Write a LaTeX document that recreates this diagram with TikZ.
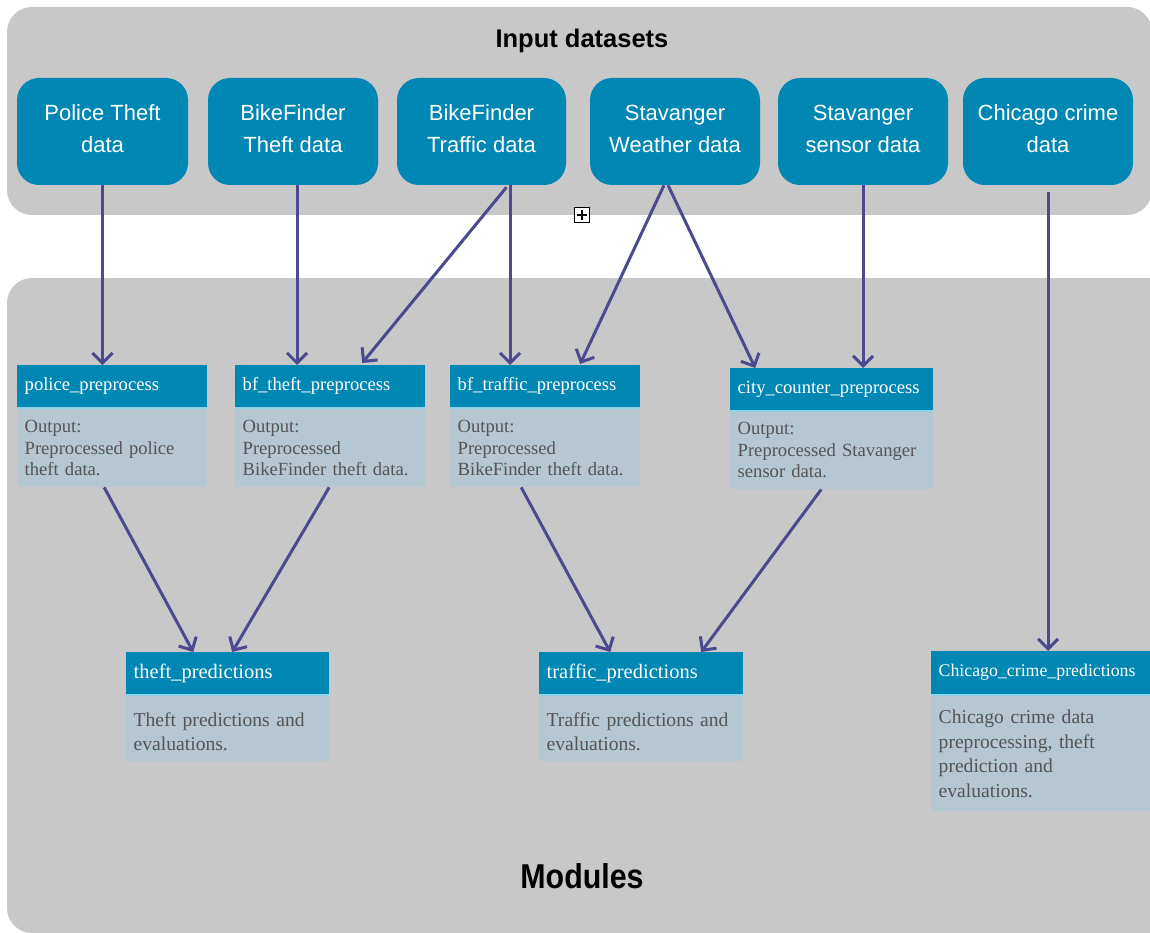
\documentclass[tikz,border=0pt]{standalone}
\usepackage{fontspec}
\setmainfont{Liberation Serif}
\newfontfamily\hsans{Liberation Sans}
\newfontfamily\msans{Liberation Sans}[FakeStretch=0.88]
\usetikzlibrary{arrows.meta,calc}
\definecolor{panel}{HTML}{C8C8C8}
\definecolor{dblue}{HTML}{0087B3}
\definecolor{bodyc}{HTML}{B5C7D1}
\definecolor{sepc}{HTML}{8DD3EE}
\definecolor{arrc}{HTML}{4B4A8E}
\definecolor{txtg}{HTML}{555555}
\tikzset{
  panelbox/.style={fill=panel, rounded corners=25pt},
  inbox/.style={fill=dblue, rounded corners=22pt, minimum height=107pt, text=white,
    align=center, inner sep=0pt, text depth=5pt, font=\hsans\fontsize{22}{32}\selectfont},
  hdr/.style={fill=dblue, anchor=north west, text=white, align=left, inner xsep=7.5pt,
    inner ysep=0pt, minimum height=42pt},
  bodybox/.style={fill=bodyc, anchor=north west, text=txtg, align=left, inner xsep=7.5pt,
    inner ysep=0pt},
  sepline/.style={draw=sepc, line width=2pt},
  arr/.style={draw=arrc, line width=3pt, -{Straight Barb[length=10pt,width=20pt,line width=3pt]}},
  ftA/.style={font=\fontsize{18.6}{21.5}\selectfont},
  ftB/.style={font=\fontsize{20.5}{25}\selectfont},
  ftC/.style={font=\fontsize{19.6}{24.5}\selectfont},
}
\begin{document}
\begin{tikzpicture}[x=1pt,y=-1pt]
\useasboundingbox (0,0) rectangle (1150,933);
\clip (0,0) rectangle (1150,933);
\fill[white] (0,0) rectangle (1150,933);
% panels
\path[panelbox] (7,7) rectangle (1152,215);
\path[panelbox] (7,278) rectangle (1175,933);
\node[font=\hsans\bfseries\fontsize{25.5}{30}\selectfont] (tin) at (582,41) {Input datasets};
\node[font=\msans\bfseries\fontsize{34.5}{40}\selectfont] (tmod) at (582,876) {Modules};
% small icon
\node[draw=black, fill=white, line width=1.3pt, minimum size=15pt, inner sep=0pt] (icon) at (582,215) {};
\draw[line width=1.3pt] ([xshift=-5pt]icon.center) -- ([xshift=5pt]icon.center);
\draw[line width=1.3pt] ([yshift=-5pt]icon.center) -- ([yshift=5pt]icon.center);
% input boxes
\node[inbox, minimum width=171pt] (pt)  at (102.5,131.5) {Police Theft\\data};
\node[inbox, minimum width=170pt] (bft) at (293,131.5) {BikeFinder\\Theft data};
\node[inbox, minimum width=169pt] (btd) at (481.5,131.5) {BikeFinder\\Traffic data};
\node[inbox, minimum width=170pt] (swd) at (675,131.5) {Stavanger\\Weather data};
\node[inbox, minimum width=170pt] (ssd) at (863,131.5) {Stavanger\\sensor data};
\node[inbox, minimum width=170pt] (ccd) at (1048,131.5) {Chicago crime\\data};
% module boxes, row 1
\node[hdr, ftA, text width=175pt] (pp) at (17,365) {police\_preprocess};
\node[bodybox, ftA, text width=175pt, minimum height=78pt] (ppb) at (17,409) {Output:\\Preprocessed police\\theft data.};
\draw[sepline] ([yshift=-1pt]pp.south west) -- ([yshift=-1pt]pp.south east);

\node[hdr, ftA, text width=175pt] (bt) at (235,365) {bf\_theft\_preprocess};
\node[bodybox, ftA, text width=175pt, minimum height=78pt] (btb) at (235,409) {Output:\\Preprocessed\\BikeFinder theft data.};
\draw[sepline] ([yshift=-1pt]bt.south west) -- ([yshift=-1pt]bt.south east);

\node[hdr, ftA, text width=175pt] (btr) at (450,365) {bf\_traffic\_preprocess};
\node[bodybox, ftA, text width=175pt, minimum height=78pt] (btrb) at (450,409) {Output:\\Preprocessed\\BikeFinder theft data.};
\draw[sepline] ([yshift=-1pt]btr.south west) -- ([yshift=-1pt]btr.south east);

\node[hdr, ftA, text width=188pt] (cc) at (730,368) {city\_counter\_preprocess};
\node[bodybox, ftA, text width=188pt, minimum height=78pt] (ccb) at (730,411) {Output:\\Preprocessed Stavanger\\sensor data.};
\draw[sepline] ([yshift=-1pt]cc.south west) -- ([yshift=-1pt]cc.south east);

% module boxes, row 2
\node[hdr, ftB, text width=188pt] (tp) at (126,652) {theft\_predictions};
\node[bodybox, ftC, text width=188pt, minimum height=65pt, text height=20pt] (tpb) at (126,696) {Theft predictions and\\evaluations.};
\draw[sepline] ([yshift=-1pt]tp.south west) -- ([yshift=-1pt]tp.south east);

\node[hdr, ftB, text width=189pt] (trp) at (539,652) {traffic\_predictions};
\node[bodybox, ftC, text width=189pt, minimum height=65pt, text height=20pt] (trpb) at (539,696) {Traffic predictions and\\evaluations.};
\draw[sepline] ([yshift=-1pt]trp.south west) -- ([yshift=-1pt]trp.south east);

\node[hdr, font=\fontsize{17.8}{21}\selectfont, text width=215pt, minimum height=43pt] (cp) at (931,651) {Chicago\_crime\_predictions};
\node[bodybox, ftC, text width=215pt, minimum height=115pt] (cpb) at (931,696) {Chicago crime data\\preprocessing, theft\\prediction and\\evaluations.};
\draw[sepline] ([yshift=-1pt]cp.south west) -- ([yshift=-1pt]cp.south east);

% arrows
\draw[arr] (pt.south) -- (pt.south |- pp.north);
\draw[arr] ([xshift=4pt]bft.south) -- ([xshift=4pt]bft.south |- bt.north);
\draw[arr] ([xshift=25pt,yshift=-2pt]btd.south) -- ([xshift=32pt,yshift=2pt]bt.north);
\draw[arr] ([xshift=28.5pt]btd.south) -- ([xshift=28.5pt]btd.south |- btr.north);
\draw[arr] ([xshift=-11pt]swd.south) -- ([xshift=35pt,yshift=1pt]btr.north);
\draw[arr] ([xshift=-7pt]swd.south) -- ([xshift=-76.5pt]cc.north);
\draw[arr] (ssd.south) -- (ssd.south |- cc.north);
\draw[arr] ([yshift=-7pt]ccd.south) -- (ccd.south |- cp.north);
\draw[arr] ([xshift=-8pt]ppb.south) -- ([xshift=-34.5pt]tp.north);
\draw[arr] ([xshift=-1pt]btb.south) -- ([xshift=4.5pt]tp.north);
\draw[arr] ([xshift=-24pt]btrb.south) -- ([xshift=-31pt]trp.north);
\draw[arr] ([xshift=-10.5pt]ccb.south) -- ([xshift=60pt]trp.north);
\end{tikzpicture}
\end{document}
